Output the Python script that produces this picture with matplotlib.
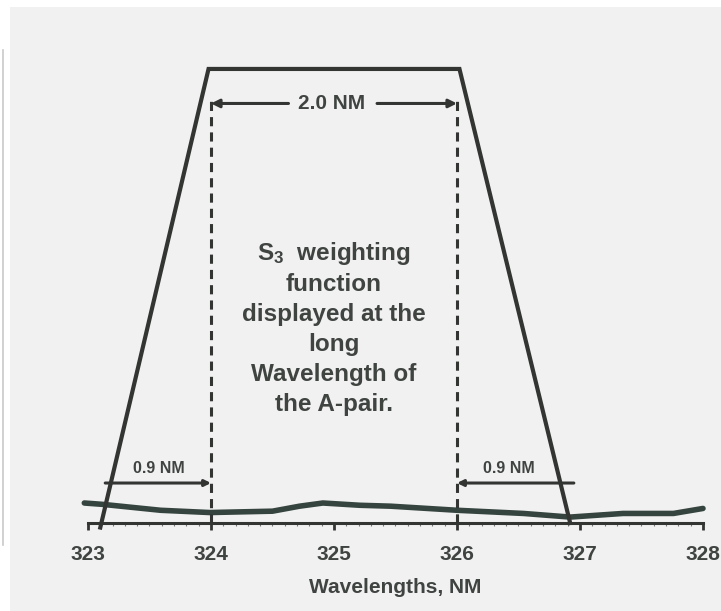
import numpy as np
import matplotlib
matplotlib.use("Agg")
import matplotlib.pyplot as plt
from matplotlib.lines import Line2D
from matplotlib.patches import Rectangle
from matplotlib.ticker import MultipleLocator

plt.rcParams['font.family'] = ['Liberation Sans', 'DejaVu Sans']
plt.rcParams['font.weight'] = 'bold'
plt.rcParams['mathtext.fontset'] = 'custom'
plt.rcParams['mathtext.rm'] = 'Liberation Sans:bold'
plt.rcParams['mathtext.it'] = 'Liberation Sans:bold'
plt.rcParams['mathtext.bf'] = 'Liberation Sans:bold'

# weighting function (trapezoid), wavelength in nm vs relative weight
trap_x = [323.1, 323.98, 326.02, 326.92]
trap_y = [-0.01, 1.0, 1.0, 0.0]

# dashed markers at the 2.0 nm plateau edges
plateau = [324.0, 326.0]

# underlying spectrum trace
spec_x = [322.97, 323.12, 323.59, 323.99, 324.5, 324.72, 324.91, 325.21,
          325.46, 326.0, 326.54, 326.92, 327.35, 327.76, 328.0]
spec_y = [0.044, 0.041, 0.028, 0.023, 0.026, 0.037, 0.044, 0.039,
          0.037, 0.028, 0.021, 0.013, 0.021, 0.021, 0.032]

ticks = [323, 324, 325, 326, 327, 328]
slope_left = [323.14, 324.0]
slope_right = [326.0, 326.95]

ink = '#333533'
txt = '#3f4441'

fig = plt.figure(figsize=(7.21, 6.11), dpi=100)
fig.patch.set_facecolor('white')
# scanned page background and the left edge line
fig.patches.append(Rectangle((10 / 721, 0), 1, 604 / 611, transform=fig.transFigure,
                             facecolor='#f1f1f1', edgecolor='none', zorder=-10))
fig.lines.append(Line2D([3 / 721, 3 / 721], [66 / 611, 561 / 611], transform=fig.transFigure,
                        color='#c9c9c9', lw=1.2))

ax = fig.add_axes([88 / 721, 0.1069, 615 / 721, 0.8174])
ax.set_facecolor('none')
ax.set_xlim(323, 328)
ax.set_ylim(-0.05, 1.05)

for s in ['left', 'right', 'top']:
    ax.spines[s].set_visible(False)
ax.spines['bottom'].set_position(('data', 0))
ax.spines['bottom'].set_linewidth(2.2)
ax.spines['bottom'].set_color(ink)
ax.set_yticks([])
ax.set_xticks(ticks)
ax.xaxis.set_minor_locator(MultipleLocator(0.1))
ax.tick_params(axis='x', which='major', length=5, width=2, color=ink, pad=11,
               labelsize=15, labelcolor=txt)
ax.tick_params(axis='x', which='minor', length=2.5, width=0.8, color='#777777')
ax.set_xlabel('Wavelengths, NM', fontsize=15, fontweight='bold', color=txt, labelpad=10)

ax.plot(spec_x, spec_y, color='#35443e', lw=4, clip_on=False, solid_capstyle='round')
ax.plot(trap_x, trap_y, color=ink, lw=3, clip_on=False, solid_joinstyle='miter')

for xp in plateau:
    ax.plot([xp, xp], [0, 0.93], color=ink, lw=2.2, ls=(0, (3, 2)))

# 2.0 NM span arrows
y_top = 0.924
arr = dict(arrowstyle='-|>', lw=2.2, color=ink, shrinkA=0, shrinkB=0, mutation_scale=12)
ax.annotate('', xy=(plateau[0], y_top), xytext=(324.63, y_top), arrowprops=arr)
ax.annotate('', xy=(plateau[1], y_top), xytext=(325.35, y_top), arrowprops=arr)
ax.text(324.98, y_top, '2.0 NM', fontsize=15, color=txt, ha='center', va='center')

# 0.9 NM slope arrows
y_low = 0.088
arr2 = dict(arrowstyle='-|>', lw=2.2, color=ink, shrinkA=0, shrinkB=0, mutation_scale=9)
ax.annotate('', xy=(slope_left[1], y_low), xytext=(slope_left[0], y_low), arrowprops=arr2)
ax.annotate('', xy=(slope_right[0], y_low), xytext=(slope_right[1], y_low), arrowprops=arr2)
ax.text(323.58, 0.121, '0.9 NM', fontsize=11.5, color=txt, ha='center', va='center')
ax.text(326.42, 0.121, '0.9 NM', fontsize=11.5, color=txt, ha='center', va='center')

ax.text(325, 0.43, 'S$_3$  weighting\nfunction\ndisplayed at the\nlong\nWavelength of\nthe A-pair.',
        fontsize=17.5, color=txt, ha='center', va='center', linespacing=1.38)

plt.savefig('out.png', dpi=100)
